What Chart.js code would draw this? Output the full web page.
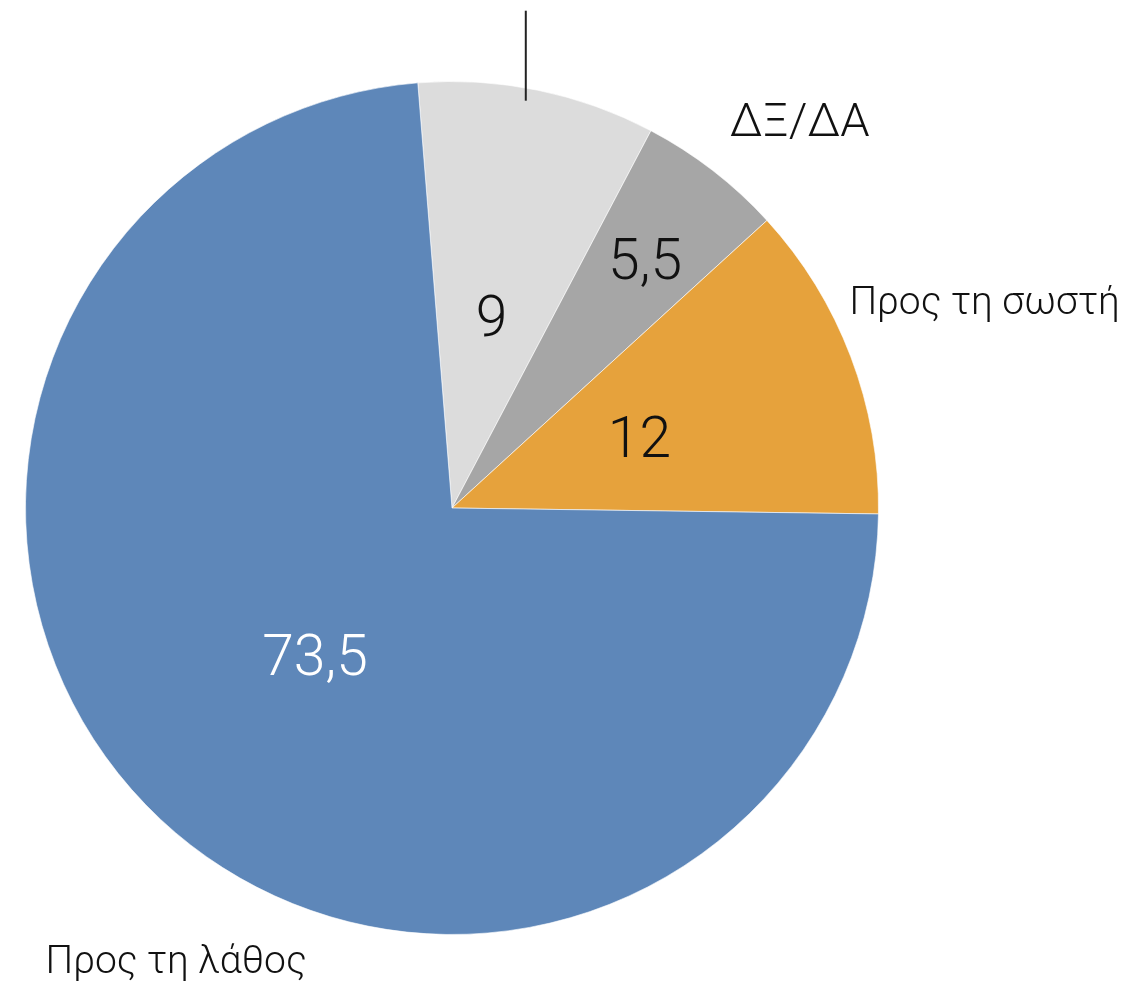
<!DOCTYPE html>
<html>
<head>
<meta charset="utf-8">
<script src="https://cdn.jsdelivr.net/npm/chart.js@4"></script>
<style>
  html, body { margin: 0; padding: 0; background: #fff; }
  #wrap { width: 1148px; height: 987px; position: relative; }
</style>
</head>
<body>
<div id="wrap"><canvas id="pie"></canvas></div>
<script>
// data (clockwise from top)
const categories = ['', 'ΔΞ/ΔΑ', 'Προς τη σωστή', 'Προς τη λάθος'];
const values = [9, 5.5, 12, 73.5];
const valueLabels = ['9', '5,5', '12', '73,5'];

const colors = ['#dcdcdc', '#a6a6a6', '#e6a23c', '#5e87b9'];
const valueColors = ['#111', '#111', '#111', '#fff'];
const valueRadius = [0.46, 0.74, 0.47, 0.47];   // fraction of the radius
// outer labels: offset from centre in radius units (text cap centre), left aligned, font size
const outerPos = [null, [0.651, -0.912, 47], [0.932, -0.487, 39], [-0.953, 1.058, 39]];
const FONT = 'Roboto, "Liberation Sans", sans-serif';

// draw text so the middle of its capitals sits on y
function capText(ctx, txt, x, y, size) {
  ctx.fillText(txt, x, y + size * 0.355);
}

const labelPlugin = {
  id: 'pieLabels',
  afterDatasetsDraw(chart) {
    const ctx = chart.ctx;
    const arcs = chart.getDatasetMeta(0).data;
    ctx.save();
    ctx.textBaseline = 'alphabetic';
    arcs.forEach((arc, i) => {
      const { x, y, startAngle, endAngle, outerRadius } = arc.getProps(['x', 'y', 'startAngle', 'endAngle', 'outerRadius'], true);
      const mid = (startAngle + endAngle) / 2;
      const r = outerRadius * valueRadius[i];
      ctx.font = '300 57px ' + FONT;
      ctx.fillStyle = valueColors[i];
      ctx.textAlign = 'center';
      capText(ctx, valueLabels[i], x + Math.cos(mid) * r, y + Math.sin(mid) * r, 57);

      const p = outerPos[i];
      if (p) {
        ctx.font = '300 ' + p[2] + 'px ' + FONT;
        ctx.fillStyle = '#111';
        ctx.textAlign = 'left';
        capText(ctx, categories[i], x + p[0] * outerRadius, y + p[1] * outerRadius, p[2]);
      } else {
        // leader line of the slice whose label sits above the frame
        ctx.strokeStyle = '#222';
        ctx.lineWidth = 2;
        ctx.beginPath();
        ctx.moveTo(x + 0.173 * outerRadius, y - 1.166 * outerRadius);
        ctx.lineTo(x + 0.173 * outerRadius, y - 0.955 * outerRadius);
        ctx.stroke();
      }
    });
    ctx.restore();
  }
};

new Chart(document.getElementById('pie'), {
  type: 'pie',
  data: {
    labels: categories,
    datasets: [{
      data: values,
      backgroundColor: colors,
      borderColor: 'rgba(255,255,255,0.6)',
      borderWidth: 1
    }]
  },
  options: {
    responsive: true,
    maintainAspectRatio: false,
    animation: false,
    events: [],
    rotation: -4.6,
    layout: { padding: { left: 25, right: 269, top: 81, bottom: 52 } },
    plugins: { legend: { display: false }, tooltip: { enabled: false } }
  },
  plugins: [labelPlugin]
});
</script>
</body>
</html>
